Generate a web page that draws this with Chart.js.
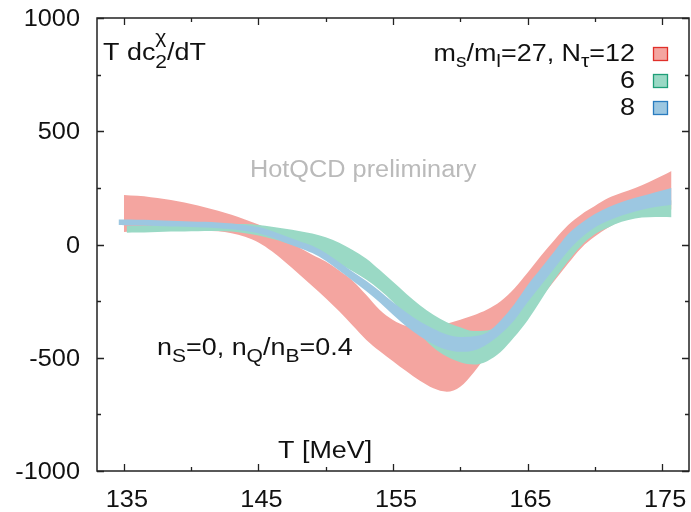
<!DOCTYPE html>
<html>
<head>
<meta charset="utf-8">
<script src="https://cdn.jsdelivr.net/npm/chart.js@4.4.1/dist/chart.umd.min.js"></script>
<style>
  html, body { margin: 0; padding: 0; background: #fff; }
  #wrap { width: 691px; height: 512px; position: relative; }
</style>
</head>
<body>
<div id="wrap"><canvas id="dcChart"></canvas></div>
<script>
// T dchi2/dT bands, lower and upper edge per temperature (MeV)
const tempRed = [135, 136, 137, 138, 139, 140, 141, 142, 143, 144, 145, 146, 147, 148, 149, 150, 151, 152, 153, 154,
    155, 156, 157, 158, 159, 160, 161, 162, 163, 164, 165, 166, 167, 168, 169, 170, 171, 172, 173, 174, 175, 175.7];
const redLow = [55, 58, 60, 61, 62, 62, 61, 58, 50, 34, 9, -30, -78, -130, -183, -237, -295, -358, -420, -470,
    -515, -560, -602, -635, -650, -628, -565, -490, -440, -380, -310, -235, -160, -85, -15, 35, 75, 105, 125, 140, 150, 155];
const redHigh = [219, 215, 209, 201, 191, 179, 165, 149, 131, 110, 88, 60, 25, -12, -45, -75, -115, -160, -222, -288,
    -333, -360, -370, -365, -350, -332, -312, -287, -250, -195, -125, -50, 20, 85, 133, 170, 205, 228, 250, 275, 303, 325];

const tempGreen = [135.2, 136, 137, 138, 139, 140, 141, 142, 143, 144, 145, 146, 147, 148, 149, 150, 151, 152, 153, 154,
    155, 156, 157, 158, 159, 160, 161, 162, 163, 164, 165, 166, 167, 168, 169, 170, 171, 172, 173, 174, 175, 175.7];
const greenLow = [52, 53, 54, 56, 57, 58, 60, 60, 57, 50, 40, 25, 8, -12, -32, -55, -85, -118, -155, -200,
    -254, -320, -395, -455, -495, -520, -530, -515, -475, -410, -335, -245, -155, -75, -5, 45, 75, 100, 115, 120, 121, 120];
const greenHigh = [82, 83, 84, 86, 87, 88, 90, 91, 92, 90, 86, 78, 69, 60, 49, 32, 8, -24, -62, -112,
    -165, -218, -268, -310, -343, -365, -382, -380, -350, -300, -235, -160, -85, -10, 50, 95, 125, 148, 165, 180, 190, 195];

const tempBlue = [134.6, 135, 136, 137, 138, 139, 140, 141, 142, 143, 144, 145, 146, 147, 148, 149, 150, 151, 152, 153, 154,
    155, 156, 157, 158, 159, 160, 161, 162, 163, 164, 165, 166, 167, 168, 169, 170, 171, 172, 173, 174, 175, 175.7];
const blueLow = [86, 85, 84, 83, 81, 79, 77, 75, 72, 67, 60, 50, 31, 8, -14, -38, -72, -115, -160, -205, -255,
    -310, -362, -405, -440, -465, -474, -468, -440, -395, -335, -255, -180, -105, -30, 30, 75, 105, 128, 146, 160, 170, 176];
const blueHigh = [110, 110, 109, 108, 106, 104, 102, 100, 97, 93, 86, 77, 60, 37, 16, -6, -38, -78, -120, -160, -205,
    -255, -300, -340, -372, -397, -408, -405, -388, -335, -265, -180, -105, -30, 45, 95, 135, 165, 188, 206, 222, 238, 249];

const xTickLabels = [135, 145, 155, 165, 175];
const xMinorTicks = [140, 150, 160, 170];
const yTickLabels = [-1000, -500, 0, 500, 1000];
const yMinorTicks = [-750, -250, 250, 750];

const RED = 'rgb(244,165,160)';
const GREEN = 'rgb(154,217,197)';
const BLUE = 'rgb(156,199,225)';

const FONT = '"Liberation Sans", Arial, Helvetica, sans-serif';
const SX = 1.1;      // numbers and watermark run a little wide
const SX_LABEL = 1.17; // labels with sub/superscripts run wider still

function pts(xs, ys) {
    return xs.map((x, i) => ({ x: x, y: ys[i] }));
}

function edge(label, xs, ys, color, fill) {
    return {
        label: label,
        data: pts(xs, ys),
        borderColor: 'transparent',
        borderWidth: 0,
        backgroundColor: color,
        pointRadius: 0,
        cubicInterpolationMode: 'monotone',
        fill: fill
    };
}

// draw a list of text runs (normal / sub / sup) starting at x, baseline y
function textRuns(ctx, runs, x, y, align, sx) {
    sx = sx || SX;
    ctx.save();
    let widths = runs.map(r => {
        ctx.font = (r.size || 23) + 'px ' + FONT;
        return r.stack ? 0 : ctx.measureText(r.t).width;
    });
    let total = widths.reduce((a, b) => a + b, 0) * sx;
    let x0 = align === 'right' ? x - total : align === 'center' ? x - total / 2 : x;
    ctx.translate(x0, y);
    ctx.scale(sx, 1);
    let cx = 0;
    runs.forEach((r, i) => {
        ctx.font = (r.size || 23) + 'px ' + FONT;
        ctx.fillText(r.t, cx, r.dy || 0);
        cx += widths[i];
    });
    ctx.restore();
}

const decorPlugin = {
    id: 'decor',
    afterDraw(chart) {
        const ctx = chart.ctx;
        const xs = chart.scales.x, ys = chart.scales.y;
        const a = chart.chartArea;

        // frame
        ctx.save();
        ctx.strokeStyle = '#222';
        ctx.lineWidth = 1.5;
        ctx.strokeRect(a.left, a.top, a.right - a.left, a.bottom - a.top);

        // inward ticks on all four sides
        ctx.lineWidth = 1.3;
        ctx.beginPath();
        xTickLabels.concat(xMinorTicks).forEach(v => {
            const len = xTickLabels.includes(v) ? 7 : 4;
            const px = Math.round(xs.getPixelForValue(v)) + 0.5;
            ctx.moveTo(px, a.bottom); ctx.lineTo(px, a.bottom - len);
            ctx.moveTo(px, a.top); ctx.lineTo(px, a.top + len);
        });
        yTickLabels.concat(yMinorTicks).forEach(v => {
            const len = yTickLabels.includes(v) ? 7 : 4;
            const py = Math.round(ys.getPixelForValue(v)) + 0.5;
            ctx.moveTo(a.left, py); ctx.lineTo(a.left + len, py);
            ctx.moveTo(a.right, py); ctx.lineTo(a.right - len, py);
        });
        ctx.stroke();

        // tick labels
        ctx.fillStyle = '#111';
        ctx.textBaseline = 'alphabetic';
        xTickLabels.forEach(v => {
            textRuns(ctx, [{ t: String(v) }], xs.getPixelForValue(v) + 3, 507, 'center');
        });
        yTickLabels.forEach(v => {
            textRuns(ctx, [{ t: String(v) }], 80, ys.getPixelForValue(v) + 8, 'right');
        });

        // quantity label, top left
        textRuns(ctx, [
            { t: 'T dc' },
            { t: 'χ', size: 18, dy: -17, stack: true },
            { t: '2', size: 18, dy: 8 },
            { t: '/dT' }
        ], 103, 60, 'left', SX_LABEL);

        // watermark
        ctx.fillStyle = '#bababa';
        textRuns(ctx, [{ t: 'HotQCD preliminary' }], 250, 177);

        // conditions
        ctx.fillStyle = '#111';
        textRuns(ctx, [
            { t: 'n' }, { t: 'S', size: 18, dy: 7 },
            { t: '=0, n' }, { t: 'Q', size: 18, dy: 7 },
            { t: '/n' }, { t: 'B', size: 18, dy: 7 },
            { t: '=0.4' }
        ], 157, 355, 'left', SX_LABEL);

        // axis title
        textRuns(ctx, [{ t: 'T [MeV]' }], 278, 458, 'left', SX_LABEL);

        // legend
        const rows = [
            { runs: [{ t: 'm' }, { t: 's', size: 18, dy: 6 }, { t: '/m' }, { t: 'l', size: 18, dy: 6 },
                     { t: '=27, N' }, { t: 'τ', size: 18, dy: 6 }, { t: '=12' }], fill: RED, line: '#e0302a' },
            { runs: [{ t: '6' }], fill: GREEN, line: '#1f9f78' },
            { runs: [{ t: '8' }], fill: BLUE, line: '#2a7cbf' }
        ];
        rows.forEach((r, i) => {
            const base = 61 + i * 27;
            ctx.fillStyle = '#111';
            textRuns(ctx, r.runs, 635, base, 'right', SX_LABEL);
            ctx.fillStyle = r.fill;
            ctx.strokeStyle = r.line;
            ctx.lineWidth = 1.3;
            ctx.fillRect(653, base - 13, 14, 13);
            ctx.strokeRect(653.5, base - 13.5, 14, 13);
        });
        ctx.restore();
    }
};

const ctx = document.getElementById('dcChart').getContext('2d');
const dcChart = new Chart(ctx, {
    type: 'line',
    data: {
        // blue listed first so it is painted last (on top)
        datasets: [
            edge('8 upper', tempBlue, blueHigh, BLUE, '+1'),
            edge('8 lower', tempBlue, blueLow, BLUE, false),
            edge('6 upper', tempGreen, greenHigh, GREEN, '+1'),
            edge('6 lower', tempGreen, greenLow, GREEN, false),
            edge('12 upper', tempRed, redHigh, RED, '+1'),
            edge('12 lower', tempRed, redLow, RED, false)
        ]
    },
    options: {
        responsive: true,
        maintainAspectRatio: false,
        animation: false,
        devicePixelRatio: 1,
        layout: { padding: { left: 97, right: 2, top: 18, bottom: 41 } },
        plugins: {
            legend: { display: false },
            tooltip: { enabled: false }
        },
        scales: {
            x: { type: 'linear', min: 133, max: 177, display: false },
            y: { type: 'linear', min: -1000, max: 1000, display: false }
        }
    },
    plugins: [decorPlugin]
});
</script>
</body>
</html>
